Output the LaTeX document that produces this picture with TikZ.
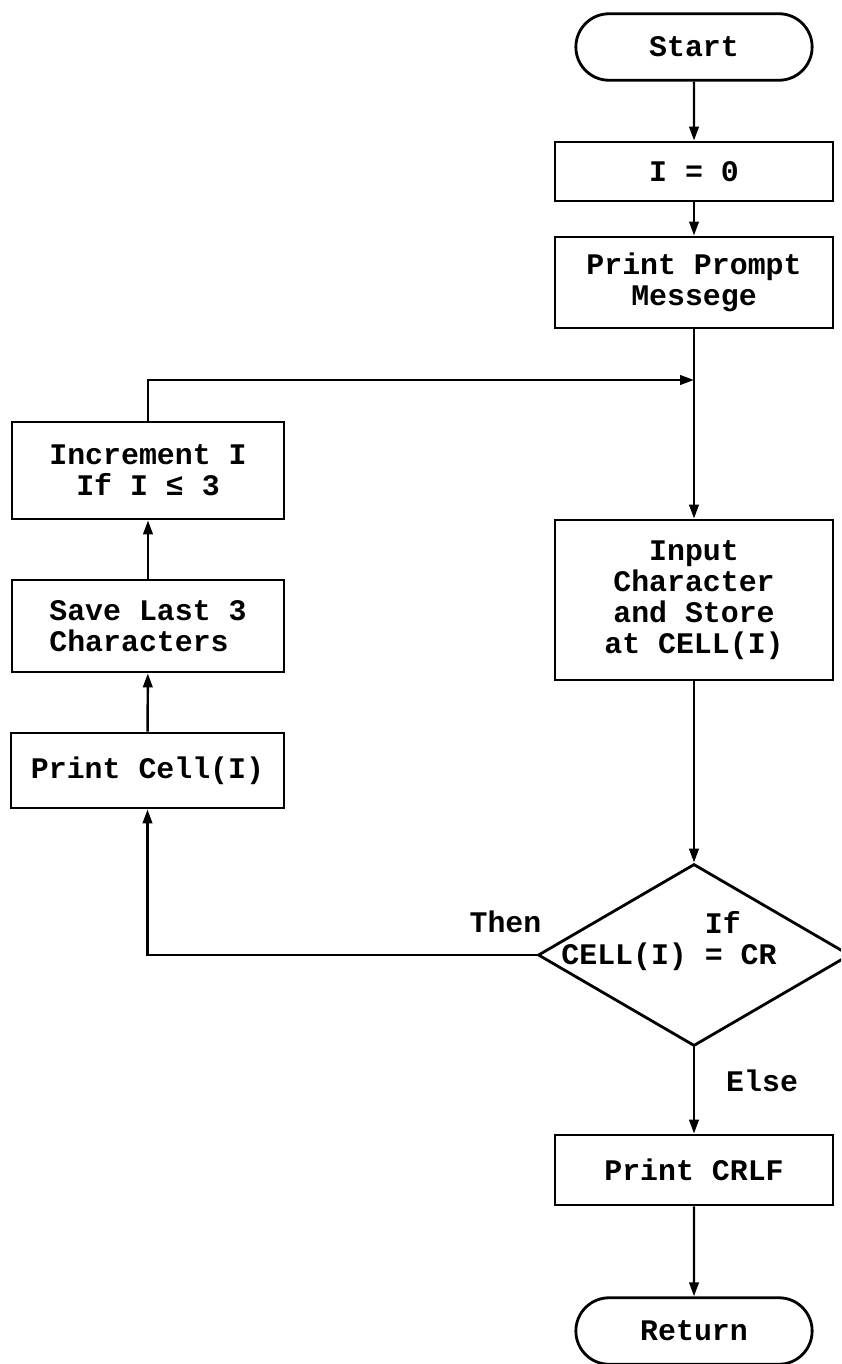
\documentclass[tikz,border=0pt]{standalone}
\usepackage{fontspec}
\setmonofont{Liberation Mono}
\usetikzlibrary{shapes.geometric, shapes.misc, arrows.meta, positioning}
\tikzset{
  % testo a macchina
  type/.style={font=\ttfamily\bfseries\fontsize{17}{17.6}\selectfont},
  % scatola generica
  box/.style={type, draw=black, line width=1.6pt, minimum width=5.56cm,
    minimum height=1.2cm, align=center, fill=white, inner sep=2pt},
  % inizio / fine
  term/.style={type, rounded rectangle, draw=black, line width=1.6pt,
    minimum width=4.96cm, minimum height=1.33cm, fill=white},
  % decisione
  decision/.style={diamond, draw=black, line width=1.6pt, minimum width=6.24cm,
    minimum height=3.64cm, inner sep=0pt},
  % collegamenti
  line/.style={line width=1.4pt},
  flow/.style={line width=1.4pt, -{Triangle[length=2.8mm, width=1.9mm]}},
  % etichette
  lbl/.style={type, inner sep=0pt, align=left},
}

\begin{document}
\begin{tikzpicture}
  \fill[white] (0,0) rectangle (16.82,-27.28);
  \useasboundingbox (0,0) rectangle (16.82,-27.28);
  \clip (0,0) rectangle (16.82,-27.28);
  % colonna principale
  \node[term] (start) at (13.88,-0.94) {Start};
  \node[box, minimum height=1.18cm] (init) at (13.88,-3.43) {I = 0};
  \node[box, minimum height=1.82cm] (prompt) at (13.88,-5.65) {Print Prompt\\Messege};
  \coordinate (join) at (13.88,-7.6);
  \node[box, minimum height=3.2cm] (input) at (13.88,-12.0) {Input\\Character\\and Store\\at CELL(I)};
  \node[decision] (dec) at (13.88,-19.1) {};
  \node[lbl] (dectext) at ([xshift=-0.5cm, yshift=0.28cm]dec.center) {\hphantom{CELL(I) }If\\CELL(I) = CR};
  \node[box, minimum height=1.4cm] (crlf) at (13.88,-23.4) {Print CRLF};
  \node[term] (ret) at (13.88,-26.62) {Return};
  % ciclo a sinistra
  \node[box, minimum width=5.44cm, minimum height=1.94cm] (incr) at (2.96,-9.41) {Increment I\\If I ≤ 3};
  \node[box, minimum width=5.44cm, minimum height=1.84cm, align=left] (save) at (2.96,-12.52) {Save Last 3\\Characters};
  \node[box, minimum width=5.46cm, minimum height=1.5cm] (pcell) at (2.95,-15.41) {Print Cell(I)};

  \draw[flow] (start) -- (init);
  \draw[flow] (init) -- (prompt);
  \draw[line] (prompt) -- (join);
  \draw[flow] (join) -- (input);
  \draw[flow] (input) -- (dec);
  \draw[flow] (dec) -- node[lbl, pos=0.39, right=0.62cm] (else) {Else} (crlf);
  \draw[flow] (crlf) -- (ret);
  \draw[flow] (dec.west) -| node[lbl, pos=0.04, above=0.42cm] (then) {Then} (pcell.south);
  \draw[flow] (pcell) -- (save);
  \draw[flow] (save) -- (incr);
  \draw[flow] (incr.north) |- (join);
\end{tikzpicture}
\end{document}
